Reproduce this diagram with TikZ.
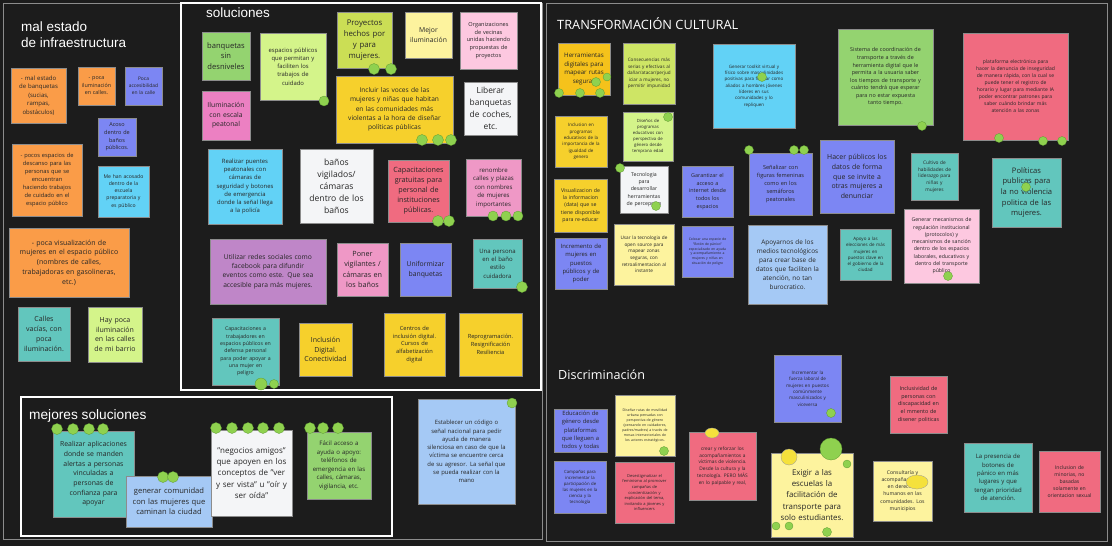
\documentclass[tikz,border=0pt]{standalone}
\usepackage{fontspec}
\setmainfont{Open Sans}
\newfontfamily\titlefont{Liberation Sans}
\definecolor{cBg}{HTML}{1C1C1C}
\definecolor{cFrame}{HTML}{8C8C8C}
\definecolor{cTx}{HTML}{262626}
\definecolor{cOr}{HTML}{FA9C48}
\definecolor{cLY}{HTML}{FDF39E}
\definecolor{cYe}{HTML}{F6D02C}
\definecolor{cYO}{HTML}{F5C21B}
\definecolor{cLG}{HTML}{D4F48A}
\definecolor{cGr}{HTML}{94D370}
\definecolor{cYG}{HTML}{CBDE55}
\definecolor{cCy}{HTML}{62D2F6}
\definecolor{cLB}{HTML}{A5C9F5}
\definecolor{cBl}{HTML}{7C86F3}
\definecolor{cTe}{HTML}{62C6BD}
\definecolor{cPk}{HTML}{EF98C6}
\definecolor{cDP}{HTML}{EC80C2}
\definecolor{cLP}{HTML}{FDC8E0}
\definecolor{cRe}{HTML}{F06B80}
\definecolor{cPu}{HTML}{BF86C8}
\definecolor{cWh}{HTML}{F4F5F7}
\definecolor{cDot}{HTML}{8FD14F}
\definecolor{cDotB}{HTML}{5E9A32}
\definecolor{cYDot}{HTML}{F5E13C}
\newcommand\fsz[1]{\fontsize{#1pt}{\dimexpr #1pt*7/5\relax}\selectfont}
\newcommand\stick[8]{%
 \pgfmathsetlengthmacro\stW{(#4-#2)*1pt}%
 \pgfmathsetlengthmacro\stH{(#5-#3)*1pt}%
 \pgfmathsetlengthmacro\stT{(#4-#2-2)*1pt}%
 \node[stk,fill=#6,minimum width=\stW,minimum height=\stH,text width=\stT,font=\fsz{#7}] (#1) at ({(#2+#4)/2},{(#3+#5)/2}) {#8};}
\newcommand\gdot[3]{\fill[cDot,draw=cDotB,line width=0.3pt] (#1,#2) circle[radius=#3];}
\newcommand\ydot[4]{\fill[cYDot,draw=black!40,line width=0.3pt] (#1,#2) ellipse[x radius=#3,y radius=#4];}
\tikzset{
 stk/.style={draw=black!45,line width=0.3pt,inner sep=0pt,align=center,text=cTx},
 board/.style={draw=cFrame,line width=1pt},
 wframe/.style={draw=white,line width=1.6pt},
 ttl/.style={text=white,inner sep=0pt,align=left}
}
\begin{document}
\begin{tikzpicture}[x=1pt,y=-1pt]
\useasboundingbox (0,0) rectangle (1112,546);
\fill[cBg] (0,0) rectangle (1112,546);
\draw[board] (3,3) rectangle (542,539);
\draw[board] (546,3) rectangle (1107,541);
\draw[wframe] (181,3) rectangle (541,390);
\draw[wframe] (21,397) rectangle (392,536);
% titles
\node[ttl,anchor=north west,font=\titlefont\fontsize{13.5pt}{15.5pt}\selectfont] (t1) at (21,22) {mal estado\\de infraestructura};
\node[ttl,anchor=north west,font=\titlefont\fontsize{13.5pt}{15pt}\selectfont] (t2) at (206,8) {soluciones};
\node[ttl,anchor=north west,font=\titlefont\fontsize{13.7pt}{15pt}\selectfont] (t3) at (29,409) {mejores soluciones};
\node[ttl,anchor=base west,font=\fontsize{12.8pt}{15pt}\selectfont] (t4) at (557,29) {TRANSFORMACIÓN CULTURAL};
\node[ttl,anchor=base west,font=\fontsize{12.6pt}{15pt}\selectfont] (t5) at (558,379) {Discriminación};
% mal estado
\stick{a1}{11}{68}{66}{123}{cOr}{6}{- mal estado\\de banquetas\\(sucias,\\rampas,\\obstáculos)}
\stick{a2}{78}{67}{115}{105}{cOr}{5.4}{- poca\\iluminación\\en calles.}
\stick{a3}{125}{67}{162}{105}{cBl}{4.9}{Poca\\accesibilidad\\en la calle}
\stick{a4}{98}{118}{136}{156}{cBl}{5.5}{Acoso\\dentro de\\baños\\públicos.}
\stick{a5}{12}{144}{82}{216}{cOr}{5.7}{- pocos espacios de\\descanso para las\\personas que se\\encuentran\\haciendo trabajos\\de cuidado en el\\espacio público}
\stick{a6}{98}{166}{149}{217}{cCy}{5.1}{Me han acosado\\dentro de la\\escuela\\preparatoria y\\es público}
\stick{a7}{9}{228}{129}{297}{cOr}{7}{- poca visualización de\\mujeres en el espacio público\\(nombres de calles,\\trabajadoras en gasolineras,\\etc.)}
\stick{a8}{18}{307}{70}{361}{cTe}{7}{Calles\\vacías, con\\poca\\iluminación.}
\stick{a9}{88}{307}{142}{362}{cLG}{7}{Hay poca\\iluminación\\en las calles\\de mi barrio}
% soluciones
\stick{s1}{202}{32}{250}{80}{cGr}{7.6}{banquetas\\sin\\desniveles}
\stick{s2}{260}{33}{326}{100}{cLG}{5.9}{espacios públicos\\que permitan y\\faciliten los\\trabajos de\\cuidado}
\stick{s3}{337}{12}{392}{68}{cYG}{7.8}{Proyectos\\hechos por\\y para\\mujeres.}
\stick{s4}{405}{12}{452}{58}{cLY}{6.8}{Mejor\\iluminación}
\stick{s5}{460}{12}{517}{69}{cLP}{5.6}{Organizaciones\\de vecinas\\unidas haciendo\\propuestas de\\proyectos}
\stick{s6}{202}{91}{250}{140}{cDP}{6.8}{Iluminación\\con escala\\peatonal}
\stick{s7}{336}{76}{453}{143}{cYe}{6.6}{Incluir las voces de las\\mujeres y niñas que habitan\\en las comunidades más\\violentas a la hora de diseñar\\políticas públicas}
\stick{s8}{464}{82}{517}{135}{cWh}{8.4}{Liberar\\banquetas\\de coches,\\etc.}
\stick{s9}{208}{149}{282}{224}{cCy}{5.9}{Realizar puentes\\peatonales con\\cámaras de\\seguridad y botones\\de emergencia\\donde la señal llega\\a la policía}
\stick{s10}{300}{149}{373}{223}{cWh}{8.6}{baños\\vigilados/\\cámaras\\dentro de los\\baños}
\stick{s11}{388}{160}{449}{222}{cRe}{7.2}{Capacitaciones\\gratuitas para\\personal de\\instituciones\\públicas.}
\stick{s12}{466}{159}{521}{216}{cPk}{6.1}{renombre\\calles y plazas\\con nombres\\de mujeres\\importantes}
\stick{s13}{210}{239}{326}{304}{cPu}{6.7}{Utilizar redes sociales como\\facebook para difundir\\eventos como este. Que sea\\accesible para más mujeres.}
\stick{s14}{337}{243}{388}{296}{cPk}{7.2}{Poner\\vigilantes /\\cámaras en\\los baños}
\stick{s15}{400}{243}{451}{296}{cBl}{6.8}{Uniformizar\\banquetas}
\stick{s16}{473}{239}{522}{288}{cTe}{6}{Una persona\\en el baño\\estilo\\cuidadora}
\stick{s17}{212}{318}{279}{385}{cTe}{5.2}{Capacitaciones a\\trabajadores en\\espacios públicos en\\defensa personal\\para poder apoyar a\\una mujer en\\peligro}
\stick{s18}{299}{323}{352}{376}{cYe}{7}{Inclusión\\Digital.\\Conectividad}
\stick{s19}{384}{313}{445}{376}{cYe}{5.7}{Centros de\\inclusión digital.\\Cursos de\\alfabetización\\digital}
\stick{s20}{459}{313}{522}{376}{cYe}{5.7}{Reprogramación.\\Resignificación\\Resiliencia}
% mejores soluciones
\stick{m1}{53}{431}{134}{517}{cTe}{6.9}{Realizar aplicaciones\\donde se manden\\alertas a personas\\vinculadas a\\personas de\\confianza para\\apoyar}
\stick{m2}{126}{476}{212}{527}{cLB}{7.6}{generar comunidad\\con las mujeres que\\caminan la ciudad}
\stick{m3}{211}{430}{292}{516}{cWh}{8}{"negocios amigos"\\que apoyen en los\\conceptos de "ver\\y ser vista" u "oír y\\ser oída"}
\stick{m4}{307}{432}{371}{499}{cGr}{6.1}{Fácil acceso a\\ayuda o apoyo:\\teléfonos de\\emergencia en las\\calles, cámaras,\\vigilancia, etc.}
\stick{m5}{418}{399}{515}{504}{cLB}{5.9}{Establecer un código o\\señal nacional para pedir\\ayuda de manera\\silenciosa en caso de que la\\víctima se encuentre cerca\\de su agresor. La señal que\\se pueda realizar con la\\mano}
% transformacion cultural
\stick{r1}{558}{43}{610}{95}{cYO}{6.2}{Herramientas\\digitales para\\mapear rutas\\seguras}
\stick{r2}{623}{43}{675}{104}{cYG!70!cLG}{4.6}{Consecuencias más\\serias y efectivas al\\dañar/atacar/perjud\\iciar a mujeres, no\\permitir impunidad}
\stick{r3}{713}{44}{795}{128}{cCy}{4.5}{Generar toolkit virtual y\\físico sobre masculinidades\\positivas para formar como\\aliados a hombres jóvenes\\líderes en sus\\comunidades y lo\\repliquen}
\stick{r4}{555}{116}{607}{167}{cYe}{4.5}{Inclusion en\\programas\\educativos de la\\importancia de la\\igualdad de\\genero}
\stick{r5}{623}{112}{673}{161}{cLG}{4.3}{Diseños de\\programas\\educativos con\\perspectiva de\\género desde\\temprana edad}
\stick{r6}{838}{29}{933}{125}{cGr}{5.4}{Sistema de coordinación de\\transporte a través de\\herramienta digital que le\\permita a la usuaria saber\\los tiempos de transporte y\\cuánto tendrá que esperar\\para no estar expuesta\\tanto tiempo.}
\stick{r7}{963}{33}{1068}{140}{cRe}{5}{plataforma electrónica para\\hacer la denuncia de inseguridad\\de manera rápida, con la cual se\\puede tener el registro de\\horario y lugar para mediante IA\\poder encontrar patrones para\\saber cuándo brindar más\\atención a las zonas}
\stick{r8}{554}{179}{607}{232}{cYe}{5.2}{Visualizacion de\\la informacion\\(data) que se\\tiene disponible\\para re-educar}
\stick{r9}{620}{166}{668}{213}{cWh}{5.2}{Tecnologia\\para\\desarrollar\\herramientas\\de percepcion}
\stick{r10}{682}{166}{733}{217}{cBl}{5.4}{Garantizar el\\acceso a\\internet desde\\todos los\\espacios}
\stick{r11}{749}{153}{812}{215}{cBl}{5.6}{Señalizar con\\figuras femeninas\\como en los\\semáforos\\peatonales}
\stick{r12}{555}{238}{607}{289}{cBl}{5.9}{Incremento de\\mujeres en\\puestos\\públicos y de\\poder}
\stick{r13}{614}{224}{674}{285}{cLY}{4.7}{Usar la tecnologia de\\open source para\\mapear zonas\\seguras, con\\retroalimentacion al\\instante}
\stick{r14}{682}{226}{733}{277}{cBl}{3.4}{Colocar una especie de\\"Botón de pánico"\\especializado en ayuda\\y acompañamiento a\\mujeres y niñas en\\situación de peligro}
\stick{r15}{748}{225}{827}{304}{cLB}{6.4}{Apoyarnos de los\\medios tecnológicos\\para crear base de\\datos que faciliten la\\atención, no tan\\burocratico.}
\stick{r16}{820}{140}{894}{213}{cBl}{6.9}{Hacer públicos los\\datos de forma\\que se invite a\\otras mujeres a\\denunciar}
\stick{r17}{911}{153}{958}{200}{cTe}{4.8}{Cultivo de\\habilidades de\\liderazgo para\\niñas y\\mujeres}
\stick{r18}{992}{158}{1061}{227}{cTe}{7.6}{Políticas\\publicas para\\la no violencia\\politica de las\\mujeres.}
\stick{r19}{840}{229}{891}{280}{cTe}{4.5}{Apoyo a las\\elecciones de más\\mujeres en\\puestos clave en\\el gobierno de la\\ciudad}
\stick{r20}{904}{209}{979}{283}{cLP}{5.2}{Generar mecanismos de\\regulación institucional\\(protocolos) y\\mecanismos de sanción\\dentro de los espacios\\laborales, educativos y\\dentro del transporte\\público}
% discriminacion
\stick{d1}{554}{409}{607}{452}{cBl}{5.8}{Educación de\\género desde\\plataformas\\que lleguen a\\todos y todas}
\stick{d2}{615}{395}{675}{456}{cLY}{3.5}{Diseñar rutas de movilidad\\urbana pensadas con\\perspectiva de género\\(pensando en cuidadores,\\padres/madres) a través de\\mesas intersectoriales de\\los actores estratégicos.}
\stick{d3}{554}{461}{606}{513}{cBl}{4.3}{Campañas para\\incrementar la\\participación de\\las mujeres en la\\ciencia y la\\tecnología}
\stick{d4}{615}{462}{674}{523}{cRe}{4}{Desestigmatizar el\\feminismo al promover\\campañas de\\concientización y\\explicación del tema,\\invitando a jóvenes y\\influencers}
\stick{d5}{689}{432}{756}{500}{cRe}{4.8}{crear y reforzar los\\acompañamientos a\\víctimas de violencia.\\Desde la cultura y la\\tecnología. PERO MÁS\\en lo palpable y real,}
\stick{d6}{774}{355}{841}{422}{cBl}{4.6}{Incrementar la\\fuerza laboral de\\mujeres en puestos\\comúnmente\\masculinizados y\\viceversa}
\stick{d7}{771}{453}{853}{537}{cLY}{7.9}{Exigir a las\\escuelas la\\facilitación de\\transporte para\\solo estudiantes.}
\stick{d8}{890}{376}{947}{433}{cRe}{5.4}{Inclusividad de\\personas con\\discapacidad en\\el mmento de\\disener politicas}
\stick{d9}{873}{461}{932}{521}{cLY}{5.1}{Consultaría y\\acompañamiento\\en derechos\\humanos en las\\comunidades. Los\\municipios}
\stick{d10}{964}{443}{1032}{512}{cTe}{6}{La presencia de\\botones de\\pánico en más\\lugares y que\\tengan prioridad\\de atención.}
\stick{d11}{1039}{451}{1100}{512}{cRe}{5.1}{Inclusion de\\minorias, no\\basadas\\solamente en\\orientacion sexual}
% voting dots
\gdot{324}{101}{5}
\gdot{374}{69}{5.5}\gdot{391}{69}{5.5}
\gdot{422}{140}{5.5}\gdot{438}{140}{5.5}\gdot{451}{140}{5.5}
\gdot{438}{221}{5.5}\gdot{449}{221}{5.5}
\gdot{493}{216}{5}\gdot{506}{216}{5}\gdot{518}{216}{5}
\gdot{522}{287}{5.5}
\gdot{261}{384}{6}\gdot{274}{384}{4.5}
\gdot{57}{429}{5.5}\gdot{73}{429}{5.5}\gdot{89}{429}{5.5}\gdot{103}{429}{5.5}
\gdot{163}{477}{5.5}\gdot{173}{477}{5.5}
\gdot{216}{428}{5.5}\gdot{232}{428}{5.5}\gdot{248}{428}{5.5}\gdot{263}{428}{5.5}\gdot{279}{428}{5.5}
\gdot{310}{428}{5.5}\gdot{323}{428}{5.5}\gdot{338}{428}{5.5}
\gdot{512}{403}{5}
\gdot{596}{82}{4.5}\gdot{607}{77}{4}\gdot{559}{93}{4.5}\gdot{580}{93}{4.5}\gdot{600}{93}{4.5}
\gdot{762}{77}{4.5}
\gdot{668}{117}{4.5}
\gdot{922}{126}{4.5}
\gdot{999}{138}{4.5}\gdot{1043}{141}{4.5}\gdot{1062}{141}{4.5}
\gdot{620}{168}{4.5}\gdot{656}{206}{4.5}
\gdot{749}{150}{4.5}\gdot{794}{150}{4.5}\gdot{804}{150}{4.5}
\gdot{1026}{187}{4.5}
\gdot{948}{276}{4.5}
\gdot{664}{451}{4.5}
\gdot{831}{413}{4.5}
\gdot{831}{449}{11}
\gdot{847}{464}{4}
\gdot{776}{526}{4}\gdot{789}{526}{4}
\gdot{827}{532}{4.5}
\ydot{712}{433}{7}{5}
\ydot{789}{457}{8}{8}
\ydot{917}{482}{11}{7}
\end{tikzpicture}
\end{document}
